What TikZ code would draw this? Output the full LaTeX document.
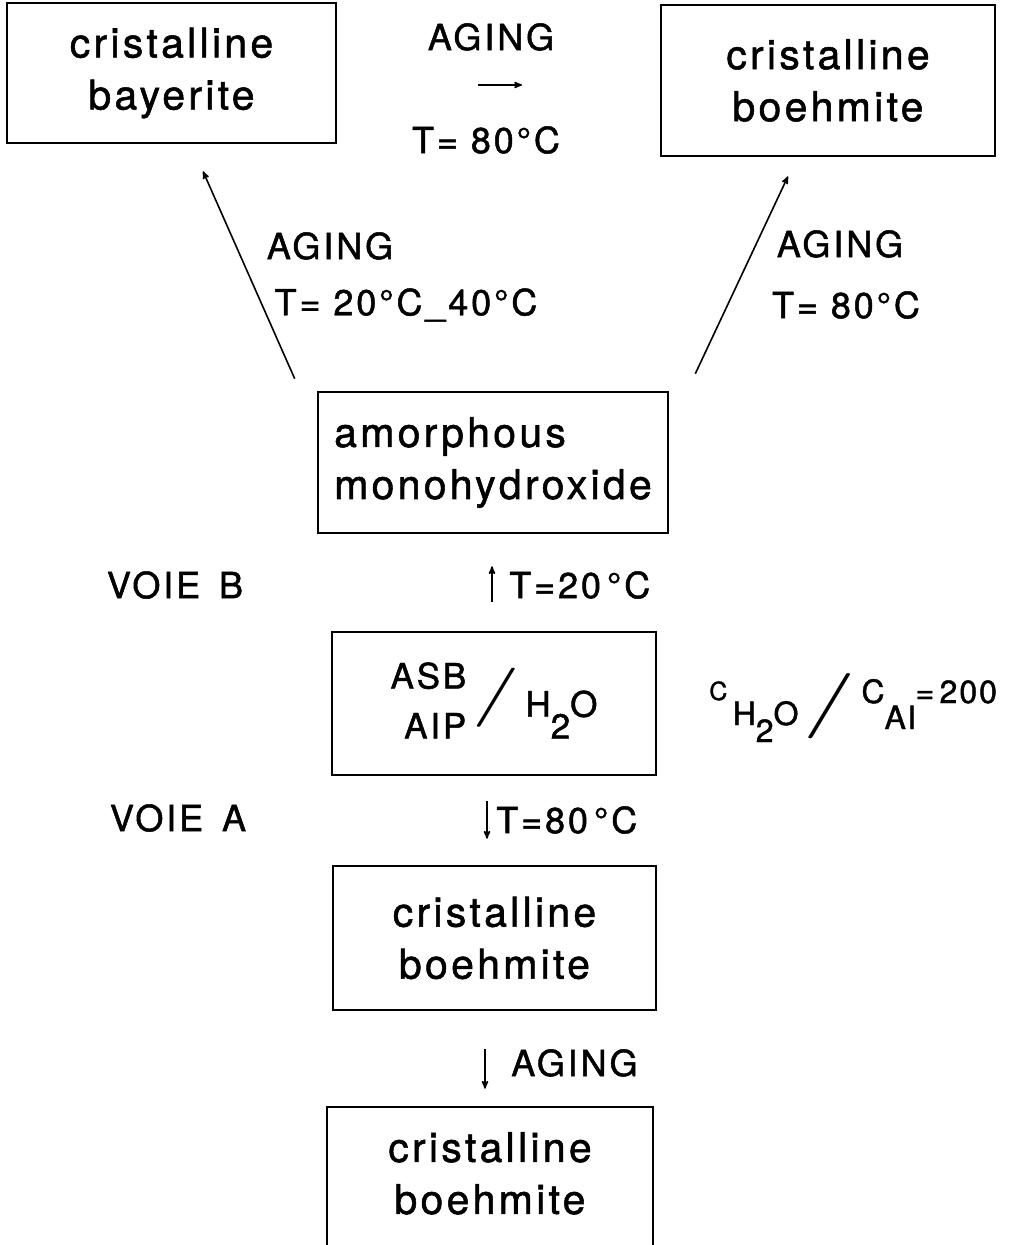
\documentclass[tikz,border=0pt]{standalone}
\usepackage{fontspec}
\setmainfont{TeX Gyre Heros}[LetterSpace=8,RawFeature={embolden=1.3}]
\usetikzlibrary{positioning}
\usetikzlibrary{arrows}

\begin{document}
\begin{tikzpicture}[x=1pt,y=-1pt,line width=2.6pt,>=stealth',
		box/.style={draw,inner sep=0pt,align=center,font=\fontsize{41}{52}\selectfont},
		lbl/.style={inner sep=0pt,font=\fontsize{36}{40}\selectfont},
		flow/.style={->,line width=1.6pt}]
		\clip (0,0) rectangle (1019,1245);
		% boxes
		\node [box,minimum width=329,minimum height=140](bayerite) at (171.5,73) {cristalline\\bayerite};
		\node [box,minimum width=334,minimum height=151](boehmiteTop) at (828,80.5) {cristalline\\boehmite};
		\node [box,align=left,minimum width=350,minimum height=141](amorph) at (493,462.5) {amorphous\\monohydroxide};
		\node [box,font=\fontsize{35}{50}\selectfont,minimum width=324,minimum height=143](asb) at (494,703.5)
			{\begin{tabular}{@{}r@{}}ASB\\AIP\end{tabular}\,\raisebox{-3pt}{\fontsize{20}{20}\selectfont\scalebox{5}[2.85]{$/$}}\,\raisebox{-7pt}{H\raisebox{-22pt}{2}O}};
		\node [box,minimum width=323,minimum height=144](boehmiteA) at (494.5,938) {cristalline\\boehmite};
		\node [box,minimum width=326,minimum height=158](boehmiteB) at (490,1186) {cristalline\\boehmite\\[-26pt]\mbox{}};
		% labels
		\node [lbl](agingTop) at (491,37) {AGING};
		\node [lbl](tTop) at (486,140) {T= 80°C};
		\node [lbl](agingLeft) at (330,246) {AGING};
		\node [lbl](tLeft) at (406,305) {T= 20°C\_40°C};
		\node [lbl](agingRight) at (840,244) {AGING};
		\node [lbl](tRight) at (846,305) {T= 80°C};
		\node [lbl](voieB) at (175,585) {VOIE\, B};
		\node [lbl](voieA) at (178,818) {VOIE\, A};
		\node [lbl,anchor=west](tB) at (508,585) {T=20\,°C};
		\node [lbl,anchor=west](tA) at (495,820) {T=80\,°C};
		\node [lbl,anchor=west](agingA) at (510,1063) {AGING};
		\node [lbl,anchor=base west,font=\fontsize{32}{34}\selectfont](ratio) at (708,700)
			{{\fontsize{25}{26}\selectfont C}\,\raisebox{-25pt}{H\raisebox{-17pt}{2}O}\,\raisebox{-22pt}{\fontsize{20}{20}\selectfont\scalebox{5.5}[3.15]{$/$}}\,\raisebox{-3pt}{C}\raisebox{-29pt}{Al}\raisebox{-3pt}{=\,2\kern2pt0\kern2pt0}};
		% connectors
		\coordinate (agingFrom) at (478,85);
		\coordinate (agingTo) at (522,85);
		\draw [flow] (agingFrom) -- (agingTo);
		\draw [flow] ([xshift=-22,yshift=12]amorph.north west) -- ([xshift=31.5,yshift=-27]bayerite.south);
		\draw [flow] ([xshift=26,yshift=17]amorph.north east) -- ([xshift=-40,yshift=-19]boehmiteTop.south);
		\draw [flow,shorten <=29,shorten >=32] ([xshift=-2]asb.north) -- ([xshift=-1]amorph.south);
		\draw [flow,shorten <=25,shorten >=26] ([xshift=-7]asb.south) -- ([xshift=-7.5]boehmiteA.north);
		\draw [flow,shorten <=38,shorten >=17] ([xshift=-9.5]boehmiteA.south) -- ([xshift=-5]boehmiteB.north);
	\end{tikzpicture}
\end{document}
